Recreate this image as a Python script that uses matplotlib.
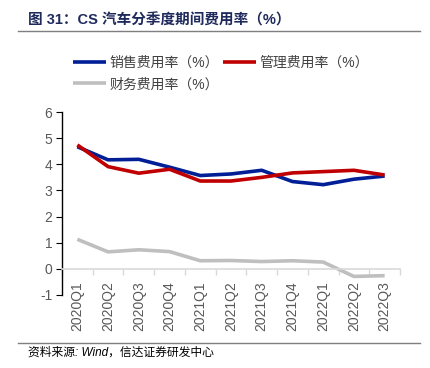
import matplotlib.pyplot as plt
import numpy as np

plt.rcParams['font.family'] = ['Liberation Sans', 'Noto Sans CJK SC', 'DejaVu Sans']

quarters = ['2020Q1', '2020Q2', '2020Q3', '2020Q4', '2021Q1', '2021Q2',
            '2021Q3', '2021Q4', '2022Q1', '2022Q2', '2022Q3']
sales_rate = [4.67, 4.17, 4.19, 3.89, 3.57, 3.63, 3.77, 3.34, 3.22, 3.43, 3.55]
admin_rate = [4.74, 3.91, 3.66, 3.81, 3.36, 3.36, 3.50, 3.67, 3.72, 3.77, 3.59]
fin_rate = [1.13, 0.65, 0.73, 0.66, 0.31, 0.32, 0.28, 0.31, 0.26, -0.29, -0.26]

labels = ['销售费用率（%）', '管理费用率（%）', '财务费用率（%）']
colors = ['#001E96', '#C00000', '#BFBFBF']

fig = plt.figure(figsize=(4.31, 3.68), dpi=100)
ax = fig.add_axes([62 / 431, 73 / 368, 338 / 431, 183 / 368])

x = np.arange(len(quarters))
lines = []
for vals, lab, c in zip([sales_rate, admin_rate, fin_rate], labels, colors):
    ln, = ax.plot(x, vals, color=c, linewidth=2.6, label=lab, solid_capstyle='butt')
    lines.append(ln)

ax.set_xlim(-0.5, len(quarters) - 0.5)
ax.set_ylim(-1, 6)
ax.set_yticks(range(-1, 7))
ax.set_yticklabels([str(v) for v in range(-1, 7)])

# x axis sits at y = 0
ax.spines['bottom'].set_position(('data', 0))
ax.spines['bottom'].set_color('#D9D9D9')
ax.spines['bottom'].set_linewidth(1.2)
ax.spines['top'].set_visible(False)
ax.spines['right'].set_visible(False)
ax.spines['left'].set_color('black')
ax.spines['left'].set_linewidth(1.0)

ax.set_xticks(x)
ax.set_xticklabels(quarters, rotation=90, va='top', ha='center')
ax.set_xticks(np.arange(-0.5, len(quarters)), minor=True)
ax.tick_params(axis='x', which='major', length=0, pad=9, labelsize=10, labelcolor='#595959')
ax.tick_params(axis='x', which='minor', length=4, color='#D9D9D9', width=1)
ax.tick_params(axis='y', length=4, color='black', labelsize=10, labelcolor='#595959', pad=3)

# legend filled column-wise, so order handles to get row 1: sales, admin / row 2: finance
leg_handles = [lines[0], lines[2], lines[1]]
leg = fig.legend(handles=leg_handles, loc='upper left', bbox_to_anchor=(67 / 431, 1 - 50 / 368),
                 ncol=2, frameon=False, fontsize=10, handlelength=2.4, handletextpad=0.25,
                 columnspacing=0.3, labelspacing=0.55, borderaxespad=0)
for t in leg.get_texts():
    t.set_color('#404040')

# title and footer
fig.text(28 / 431, 1 - 20 / 368, '图 31：CS 汽车分季度期间费用率（%）', fontsize=10.5,
         fontweight='bold', color='#1F2A5C', va='center', ha='left')
fig.add_artist(plt.Line2D([18 / 431, 420 / 431], [1 - 31 / 368, 1 - 31 / 368],
                          color='#7F7F7F', linewidth=1.0))
fig.add_artist(plt.Line2D([18 / 431, 420 / 431], [1 - 343 / 368, 1 - 343 / 368],
                          color='#7F7F7F', linewidth=1.0))
fig.text(28 / 431, 1 - 353 / 368, '资料来源: Wind，信达证券研发中心', fontsize=8.5,
         style='italic', color='black', va='center', ha='left')

fig.savefig('out.png', dpi=100)
